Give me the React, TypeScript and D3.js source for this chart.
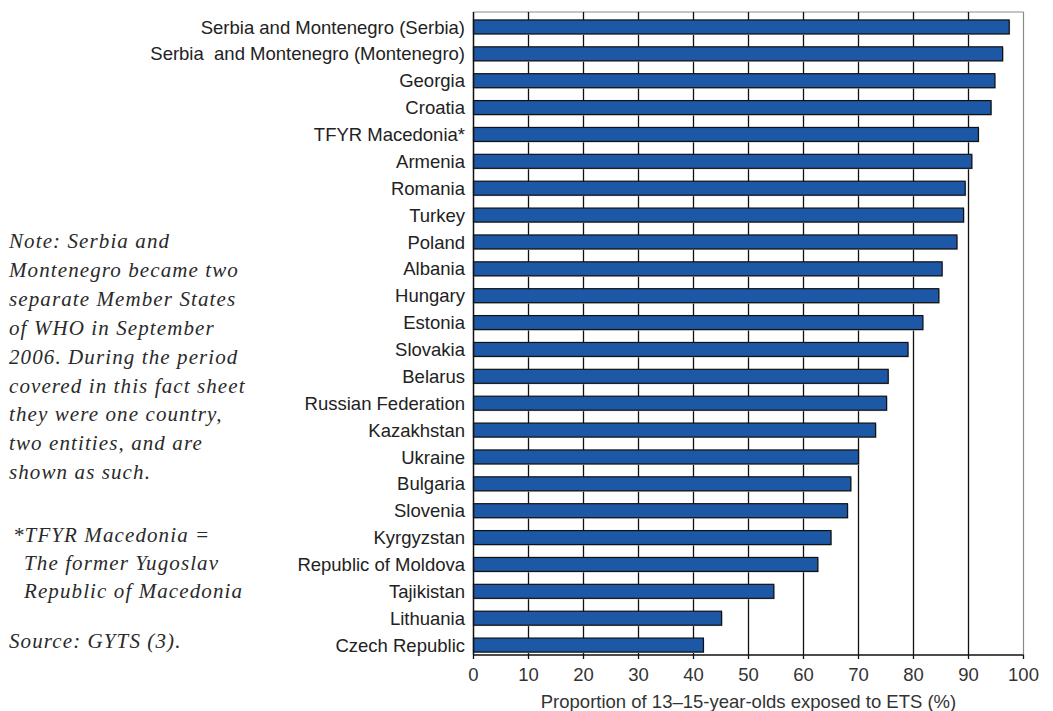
import React from "react";
import * as d3 from "d3";

const countries = [
  "Serbia and Montenegro (Serbia)",
  "Serbia  and Montenegro (Montenegro)",
  "Georgia",
  "Croatia",
  "TFYR Macedonia*",
  "Armenia",
  "Romania",
  "Turkey",
  "Poland",
  "Albania",
  "Hungary",
  "Estonia",
  "Slovakia",
  "Belarus",
  "Russian Federation",
  "Kazakhstan",
  "Ukraine",
  "Bulgaria",
  "Slovenia",
  "Kyrgyzstan",
  "Republic of Moldova",
  "Tajikistan",
  "Lithuania",
  "Czech Republic",
];

const values = [
  97.4, 96.2, 94.8, 94.1, 91.8, 90.6, 89.4, 89.1, 87.9, 85.2, 84.6, 81.7,
  79.0, 75.4, 75.1, 73.1, 70.0, 68.6, 68.0, 65.0, 62.6, 54.6, 45.1, 41.8,
];

const xTicks = [0, 10, 20, 30, 40, 50, 60, 70, 80, 90, 100];

const xTitle = "Proportion of 13\u201315-year-olds exposed to ETS (%)";

const noteLines = [
  "Note: Serbia and",
  "Montenegro became two",
  "separate Member States",
  "of WHO in September",
  "2006. During the period",
  "covered in this fact sheet",
  "they were one country,",
  "two entities, and are",
  "shown as such.",
];

const footLines = [
  "*TFYR Macedonia =",
  "The former Yugoslav",
  "Republic of Macedonia",
];

const sourceLine = "Source: GYTS (3).";

export default function App() {
  const W = 1053;
  const H = 711;
  const left = 473.5;
  const right = 1023.5;
  const top = 12;
  const bottom = 655;

  const x = d3.scaleLinear().domain([0, 100]).range([left, right]);
  const y = d3
    .scaleBand<string>()
    .domain(countries)
    .range([13.5, 658.5])
    .paddingInner(0.48)
    .paddingOuter(0.24);

  const sans = "'Liberation Sans', Arial, Helvetica, sans-serif";
  const serif = "'Liberation Serif', 'DejaVu Serif', serif";
  const noteStyle = {
    fontFamily: serif,
    fontStyle: "italic" as const,
    fontSize: 21,
    letterSpacing: 1.1,
    fill: "#2a2a2a",
  };

  return (
    <svg
      width={W}
      height={H}
      viewBox={`0 0 ${W} ${H}`}
      style={{ position: "absolute", left: 0, top: 0, background: "#fff" }}
    >
      <rect x={0} y={0} width={W} height={H} fill="#fff" />
      {/* frame top and right */}
      <line x1={left} x2={right} y1={top} y2={top} stroke="#8a8a8a" strokeWidth={1.2} />
      <line x1={right} x2={right} y1={top} y2={bottom} stroke="#8a8a8a" strokeWidth={1.2} />
      {/* gridlines */}
      {xTicks.slice(1, -1).map((t) => (
        <line
          key={t}
          x1={x(t)}
          x2={x(t)}
          y1={top}
          y2={bottom}
          stroke="#111"
          strokeWidth={1.3}
        />
      ))}
      {/* bars */}
      {countries.map((c, i) => (
        <g key={c}>
          <rect
            x={x(0) + 1}
            y={(y(c) as number) + 1}
            width={x(values[i]) - x(0)}
            height={y.bandwidth()}
            fill="#c8c8c8"
          />
          <rect
            x={x(0)}
            y={y(c)}
            width={x(values[i]) - x(0)}
            height={y.bandwidth()}
            fill="#1c58a6"
            stroke="#111"
            strokeWidth={1.2}
          />
        </g>
      ))}
      {/* axes */}
      <line x1={left} x2={left} y1={top} y2={bottom} stroke="#111" strokeWidth={1.5} />
      <line x1={left} x2={right} y1={bottom} y2={bottom} stroke="#111" strokeWidth={1.5} />
      {xTicks.map((t) => (
        <g key={t}>
          <line x1={x(t)} x2={x(t)} y1={bottom} y2={bottom + 4} stroke="#111" strokeWidth={1.3} />
          <text
            x={x(t)}
            y={681}
            textAnchor="middle"
            fontFamily={sans}
            fontSize={18.5}
            fill="#333"
          >
            {t}
          </text>
        </g>
      ))}
      <text
        x={(left + right) / 2}
        y={708}
        textAnchor="middle"
        fontFamily={sans}
        fontSize={18.5}
        fill="#333"
      >
        {xTitle}
      </text>
      {/* category labels */}
      {countries.map((c) => (
        <text
          key={c}
          x={465}
          y={(y(c) as number) + y.bandwidth() / 2}
          dy="0.36em"
          textAnchor="end"
          fontFamily={sans}
          fontSize={18.5}
          fill="#222"
          style={{ whiteSpace: "pre" }}
        >
          {c}
        </text>
      ))}
      {/* notes */}
      {noteLines.map((l, i) => (
        <text key={l} x={9} y={248 + i * 28.9} {...noteStyle}>
          {l}
        </text>
      ))}
      {footLines.map((l, i) => (
        <text key={l} x={i === 0 ? 13 : 24} y={541.5 + i * 28.4} {...noteStyle}>
          {l}
        </text>
      ))}
      <text x={9} y={648} {...noteStyle}>
        {sourceLine}
      </text>
    </svg>
  );
}
